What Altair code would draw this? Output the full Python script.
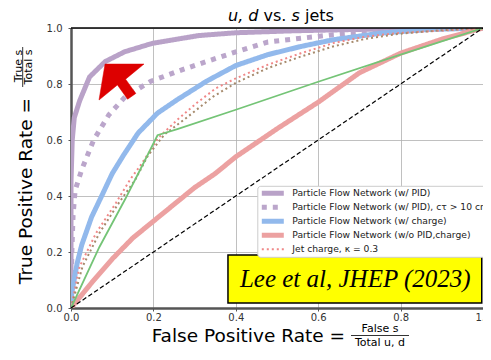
import altair as alt
import pandas as pd

# ---------------- data ----------------
series_names = [
    "Particle Flow Network (w/ PID)",
    "Particle Flow Network (w/ PID), cτ > 10 cm",
    "Particle Flow Network (w/ charge)",
    "Particle Flow Network (w/o PID,charge)",
    "Jet charge, κ = 0.3",
]

pfn_pid_x = [0, 0.0, 0.003, 0.008, 0.021, 0.045, 0.083, 0.13, 0.197, 0.31, 0.40, 0.54, 0.70, 0.85, 1.0]
pfn_pid_y = [0, 0.45, 0.6, 0.68, 0.74, 0.825, 0.88, 0.915, 0.945, 0.973, 0.983, 0.99, 0.995, 0.998, 1.0]

pfn_ctau_x = [0, 0.002, 0.005, 0.01, 0.026, 0.055, 0.092, 0.132, 0.194, 0.274, 0.40, 0.478, 0.636, 0.754, 0.88, 1.0]
pfn_ctau_y = [0, 0.2, 0.33, 0.42, 0.494, 0.60, 0.69, 0.755, 0.81, 0.853, 0.915, 0.95, 0.976, 0.988, 0.996, 1.0]

pfn_charge_x = [0, 0.002, 0.015, 0.026, 0.05, 0.076, 0.10, 0.128, 0.163, 0.21, 0.258, 0.329, 0.40, 0.478, 0.558, 0.636, 0.754, 0.87, 1.0]
pfn_charge_y = [0, 0.055, 0.16, 0.225, 0.325, 0.405, 0.48, 0.547, 0.625, 0.696, 0.744, 0.81, 0.866, 0.905, 0.934, 0.958, 0.982, 0.995, 1.0]

pfn_none_x = [0, 0.05, 0.10, 0.15, 0.20, 0.25, 0.30, 0.35, 0.40, 0.50, 0.60, 0.70, 0.80, 0.90, 1.0]
pfn_none_y = [0, 0.09, 0.175, 0.25, 0.31, 0.37, 0.43, 0.48, 0.54, 0.64, 0.735, 0.84, 0.91, 0.96, 1.0]

jetq_x = [0, 0.021, 0.061, 0.109, 0.144, 0.167, 0.194, 0.21, 0.258, 0.305, 0.352, 0.40, 0.478, 0.558, 0.636, 0.714, 0.794, 0.95, 1.0]
jetq_y = [0, 0.148, 0.268, 0.375, 0.46, 0.506, 0.565, 0.605, 0.672, 0.732, 0.785, 0.82, 0.869, 0.91, 0.946, 0.969, 0.982, 0.995, 1.0]

brown_x = [0, 0.028, 0.069, 0.116, 0.156, 0.187, 0.227, 0.274, 0.345, 0.40, 0.478, 0.558, 0.636, 0.714, 0.794, 0.90, 1.0]
brown_y = [0, 0.148, 0.268, 0.375, 0.458, 0.545, 0.62, 0.672, 0.755, 0.804, 0.857, 0.898, 0.934, 0.961, 0.979, 0.992, 1.0]

green_x = [0, 0.069, 0.132, 0.17, 0.21, 0.26, 0.40, 0.60, 0.80, 1.0]
green_y = [0, 0.218, 0.39, 0.5, 0.617, 0.64, 0.708, 0.808, 0.905, 1.0]

diag_x = [0, 1]
diag_y = [0, 1]

tick_values = [0, 0.2, 0.4, 0.6, 0.8, 1.0]

# ---------------- styles ----------------
colors = ["#b9a2c8", "#bba6cb", "#92b9ec", "#eca1a1", "#f08888"]
dashes = [[1, 0], [5, 6], [1, 0], [1, 0], [2, 3]]
widths = [5, 5, 5, 5, 2]

def long(name, xs, ys):
    return pd.DataFrame({"series": name, "x": xs, "y": ys, "i": list(range(len(xs)))})

main_df = pd.concat([
    long(series_names[0], pfn_pid_x, pfn_pid_y),
    long(series_names[1], pfn_ctau_x, pfn_ctau_y),
    long(series_names[2], pfn_charge_x, pfn_charge_y),
    long(series_names[3], pfn_none_x, pfn_none_y),
    long(series_names[4], jetq_x, jetq_y),
])

xscale = alt.Scale(domain=[0, 1], nice=False, zero=False)
yscale = alt.Scale(domain=[0, 1], nice=False, zero=False)

axis_common = dict(
    values=tick_values, format=".1f", title=None, grid=True,
    gridColor="#b0b0b0", gridWidth=0.8, domainColor="#555555", domainWidth=2.5,
    tickColor="#555555", tickSize=3, tickWidth=1, labelFont="DejaVu Sans",
    labelFontSize=10, labelColor="#333333", labelFlush=False,
)
xaxis = alt.Axis(labelPadding=1, **axis_common)
yaxis = alt.Axis(labelPadding=6, **axis_common)

legend = alt.Legend(
    title=None, orient="none", legendX=186.3, legendY=157.8,
    fillColor="white", strokeColor="#cccccc", padding=2, cornerRadius=3,
    labelFont="DejaVu Sans", labelFontSize=9.2, labelColor="#222222",
    symbolType="stroke", symbolSize=484, clipHeight=11, rowPadding=3,
    labelOffset=6, labelLimit=400,
)

lines = alt.Chart(main_df).mark_line(clip=True).encode(
    x=alt.X("x:Q", scale=xscale, axis=xaxis),
    y=alt.Y("y:Q", scale=yscale, axis=yaxis),
    order="i:Q",
    color=alt.Color("series:N", scale=alt.Scale(domain=series_names, range=colors), legend=legend),
    strokeDash=alt.StrokeDash("series:N", scale=alt.Scale(domain=series_names, range=dashes), legend=legend),
    strokeWidth=alt.StrokeWidth("series:N", scale=alt.Scale(type="ordinal", domain=series_names, range=widths), legend=legend),
)

brown = alt.Chart(long("brown", brown_x, brown_y)).mark_line(
    clip=True, color="#a68a6c", strokeWidth=2, strokeDash=[2, 3]
).encode(x="x:Q", y="y:Q", order="i:Q")

green = alt.Chart(long("green", green_x, green_y)).mark_line(
    clip=True, color="#74c476", strokeWidth=1.8
).encode(x="x:Q", y="y:Q", order="i:Q")

diag = alt.Chart(long("diag", diag_x, diag_y)).mark_line(
    clip=True, color="black", strokeWidth=1.2, strokeDash=[4.5, 2.5]
).encode(x="x:Q", y="y:Q", order="i:Q")

# top spine (black) along y = 1
top_spine = alt.Chart(pd.DataFrame({"x": [0.0], "x2": [1.0], "y": [1.0]})).mark_rule(
    color="black", strokeWidth=1.5
).encode(x="x:Q", x2="x2:Q", y="y:Q")

# arrow annotation (pointing up-left)
arrow_path = ("M -0.733 -0.80 L 1.0 -0.8 L 0.182 -0.129 L 0.636 0.507 "
              "L 0.271 0.764 L -0.182 0.129 L -1.0 0.8 Z")
arrow = alt.Chart(pd.DataFrame({"x": [0.1226], "y": [0.807]})).mark_point(
    shape=arrow_path, size=2025, filled=True, fill="#dd0000", stroke="#dd0000",
    strokeWidth=0.5, opacity=1
).encode(x="x:Q", y="y:Q")

# citation box
box = alt.Chart(pd.DataFrame({"x": [0.381], "x2": [0.997], "y": [0.189], "y2": [0.018]})).mark_rect(
    fill="#ffff00", stroke="black", strokeWidth=1.5
).encode(x="x:Q", x2="x2:Q", y="y:Q", y2="y2:Q")

box_text = alt.Chart(pd.DataFrame({"x": [0.69], "y": [0.104], "t": ["Lee et al, JHEP (2023)"]})).mark_text(
    font="Liberation Serif", fontStyle="italic", fontSize=25, color="black",
    align="center", baseline="middle"
).encode(x="x:Q", y="y:Q", text="t:N")

def label(text, x, y, size, align="left", baseline="middle", angle=0, style="normal"):
    return alt.Chart(pd.DataFrame({"t": [text]})).mark_text(
        font="DejaVu Sans", fontSize=size, fontStyle=style, color="black",
        align=align, baseline=baseline, angle=angle
    ).encode(text="t:N", x=alt.value(x), y=alt.value(y))

# title pieces
title_parts = [
    label("u, d", 157, -7, 16, baseline="alphabetic", style="italic"),
    label("vs.", 192.5, -7, 16, baseline="alphabetic"),
    label("s", 220.5, -7, 16, baseline="alphabetic", style="italic"),
    label("jets", 234, -7, 16, baseline="alphabetic"),
]

# x axis title with fraction
xt = [
    label("False Positive Rate =", 274, 308, 18.5, align="right"),
    label("False s", 309, 301, 11, align="center"),
    label("Total u, d", 309, 314.5, 11, align="center"),
]
xbar = alt.Chart(pd.DataFrame({"a": [0]})).mark_rule(color="black", strokeWidth=0.8).encode(
    x=alt.value(280), x2=alt.value(338), y=alt.value(307.5)
)

# y axis title with fraction
yt = [
    label("True Positive Rate =", -45, 70, 18.5, align="right", angle=270),
    label("True s", -52.5, 38, 11, align="center", angle=270),
    label("Total s", -42.5, 39, 11, align="center", angle=270),
]
ybar = alt.Chart(pd.DataFrame({"a": [0]})).mark_rule(color="black", strokeWidth=0.8).encode(
    x=alt.value(-48.3), y=alt.value(19), y2=alt.value(59)
)

chart = alt.layer(
    lines, brown, green, diag, top_spine, arrow, box, box_text,
    *title_parts, *xt, xbar, *yt, ybar
).properties(
    width=412, height=280,
    padding={"left": 63, "top": 20, "right": 0, "bottom": 40},
    autosize=alt.AutoSizeParams(type="none"),
).configure_view(
    strokeWidth=0
)

chart.save("out.html", embed_options={"renderer": "svg", "actions": False})
